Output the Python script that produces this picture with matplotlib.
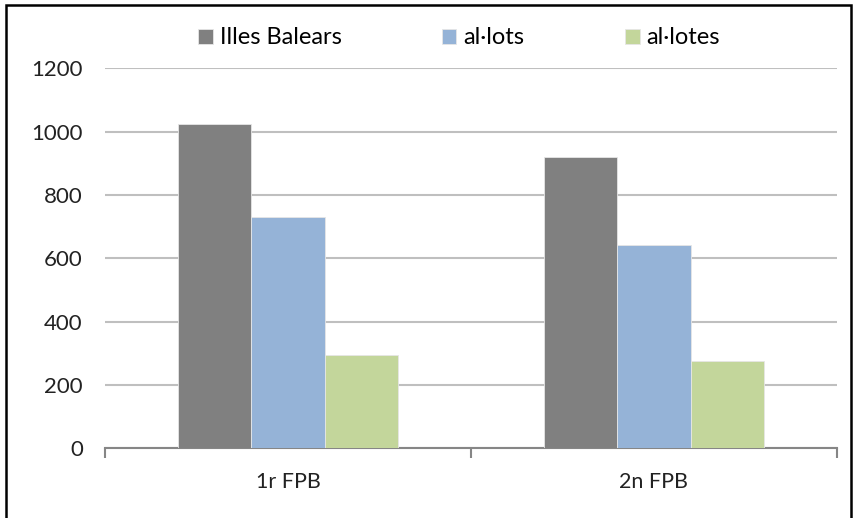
import numpy as np
import matplotlib
matplotlib.use('Agg')
import matplotlib.pyplot as plt
from matplotlib.patches import Rectangle

# data
categories = ['1r FPB', '2n FPB']
series_names = ['Illes Balears', 'al·lots', 'al·lotes']
illes_balears = [1025, 919]
al_lots = [730, 641]
al_lotes = [295, 277]
series_colors = ['#808080', '#95b3d7', '#c3d69b']

plt.rcParams['font.family'] = ['Lato', 'DejaVu Sans']

fig = plt.figure(figsize=(8.54, 5.18), dpi=100)
ax = fig.add_axes([105 / 854, 69.7 / 518, 732 / 854, 379.8 / 518])

x = np.arange(len(categories))
width = 0.2
for i, (vals, name, col) in enumerate(zip([illes_balears, al_lots, al_lotes],
                                          series_names, series_colors)):
    ax.bar(x + (i - 1) * width, vals, width, color=col, label=name,
           edgecolor='#e6e6e6', linewidth=0.6, zorder=3)

ax.set_xlim(-0.5, 1.5)
ax.set_ylim(0, 1200)
ax.set_yticks(np.arange(0, 1201, 200))
ax.grid(axis='y', color='#bfbfbf', linewidth=1.5, zorder=0)
ax.set_axisbelow(True)

for s in ['top', 'right', 'left']:
    ax.spines[s].set_visible(False)
ax.spines['bottom'].set_color('#868686')
ax.spines['bottom'].set_linewidth(1.5)

ax.set_xticks(x)
ax.set_xticklabels(categories)
ax.set_xticks([-0.5, 0.5, 1.5], minor=True)
ax.tick_params(axis='x', which='major', length=0, pad=17, labelsize=15.5,
               labelcolor='#222222')
ax.tick_params(axis='x', which='minor', length=7, width=1.5, color='#868686')
ax.tick_params(axis='y', length=0, pad=16, labelsize=16, labelcolor='#222222')

fig.legend(loc='center', bbox_to_anchor=(459 / 854, 1 - 38 / 518), ncol=3,
           frameon=False, fontsize=17, handlelength=0.62, handleheight=0.62,
           handletextpad=0.3, columnspacing=4.25)

# outer chart border
fig.patches.append(Rectangle((6 / 854, -0.02), 845 / 854, 1.02 - 5 / 518,
                             transform=fig.transFigure, fill=False,
                             edgecolor='black', linewidth=1.8))

fig.savefig('out.png', dpi=100)
